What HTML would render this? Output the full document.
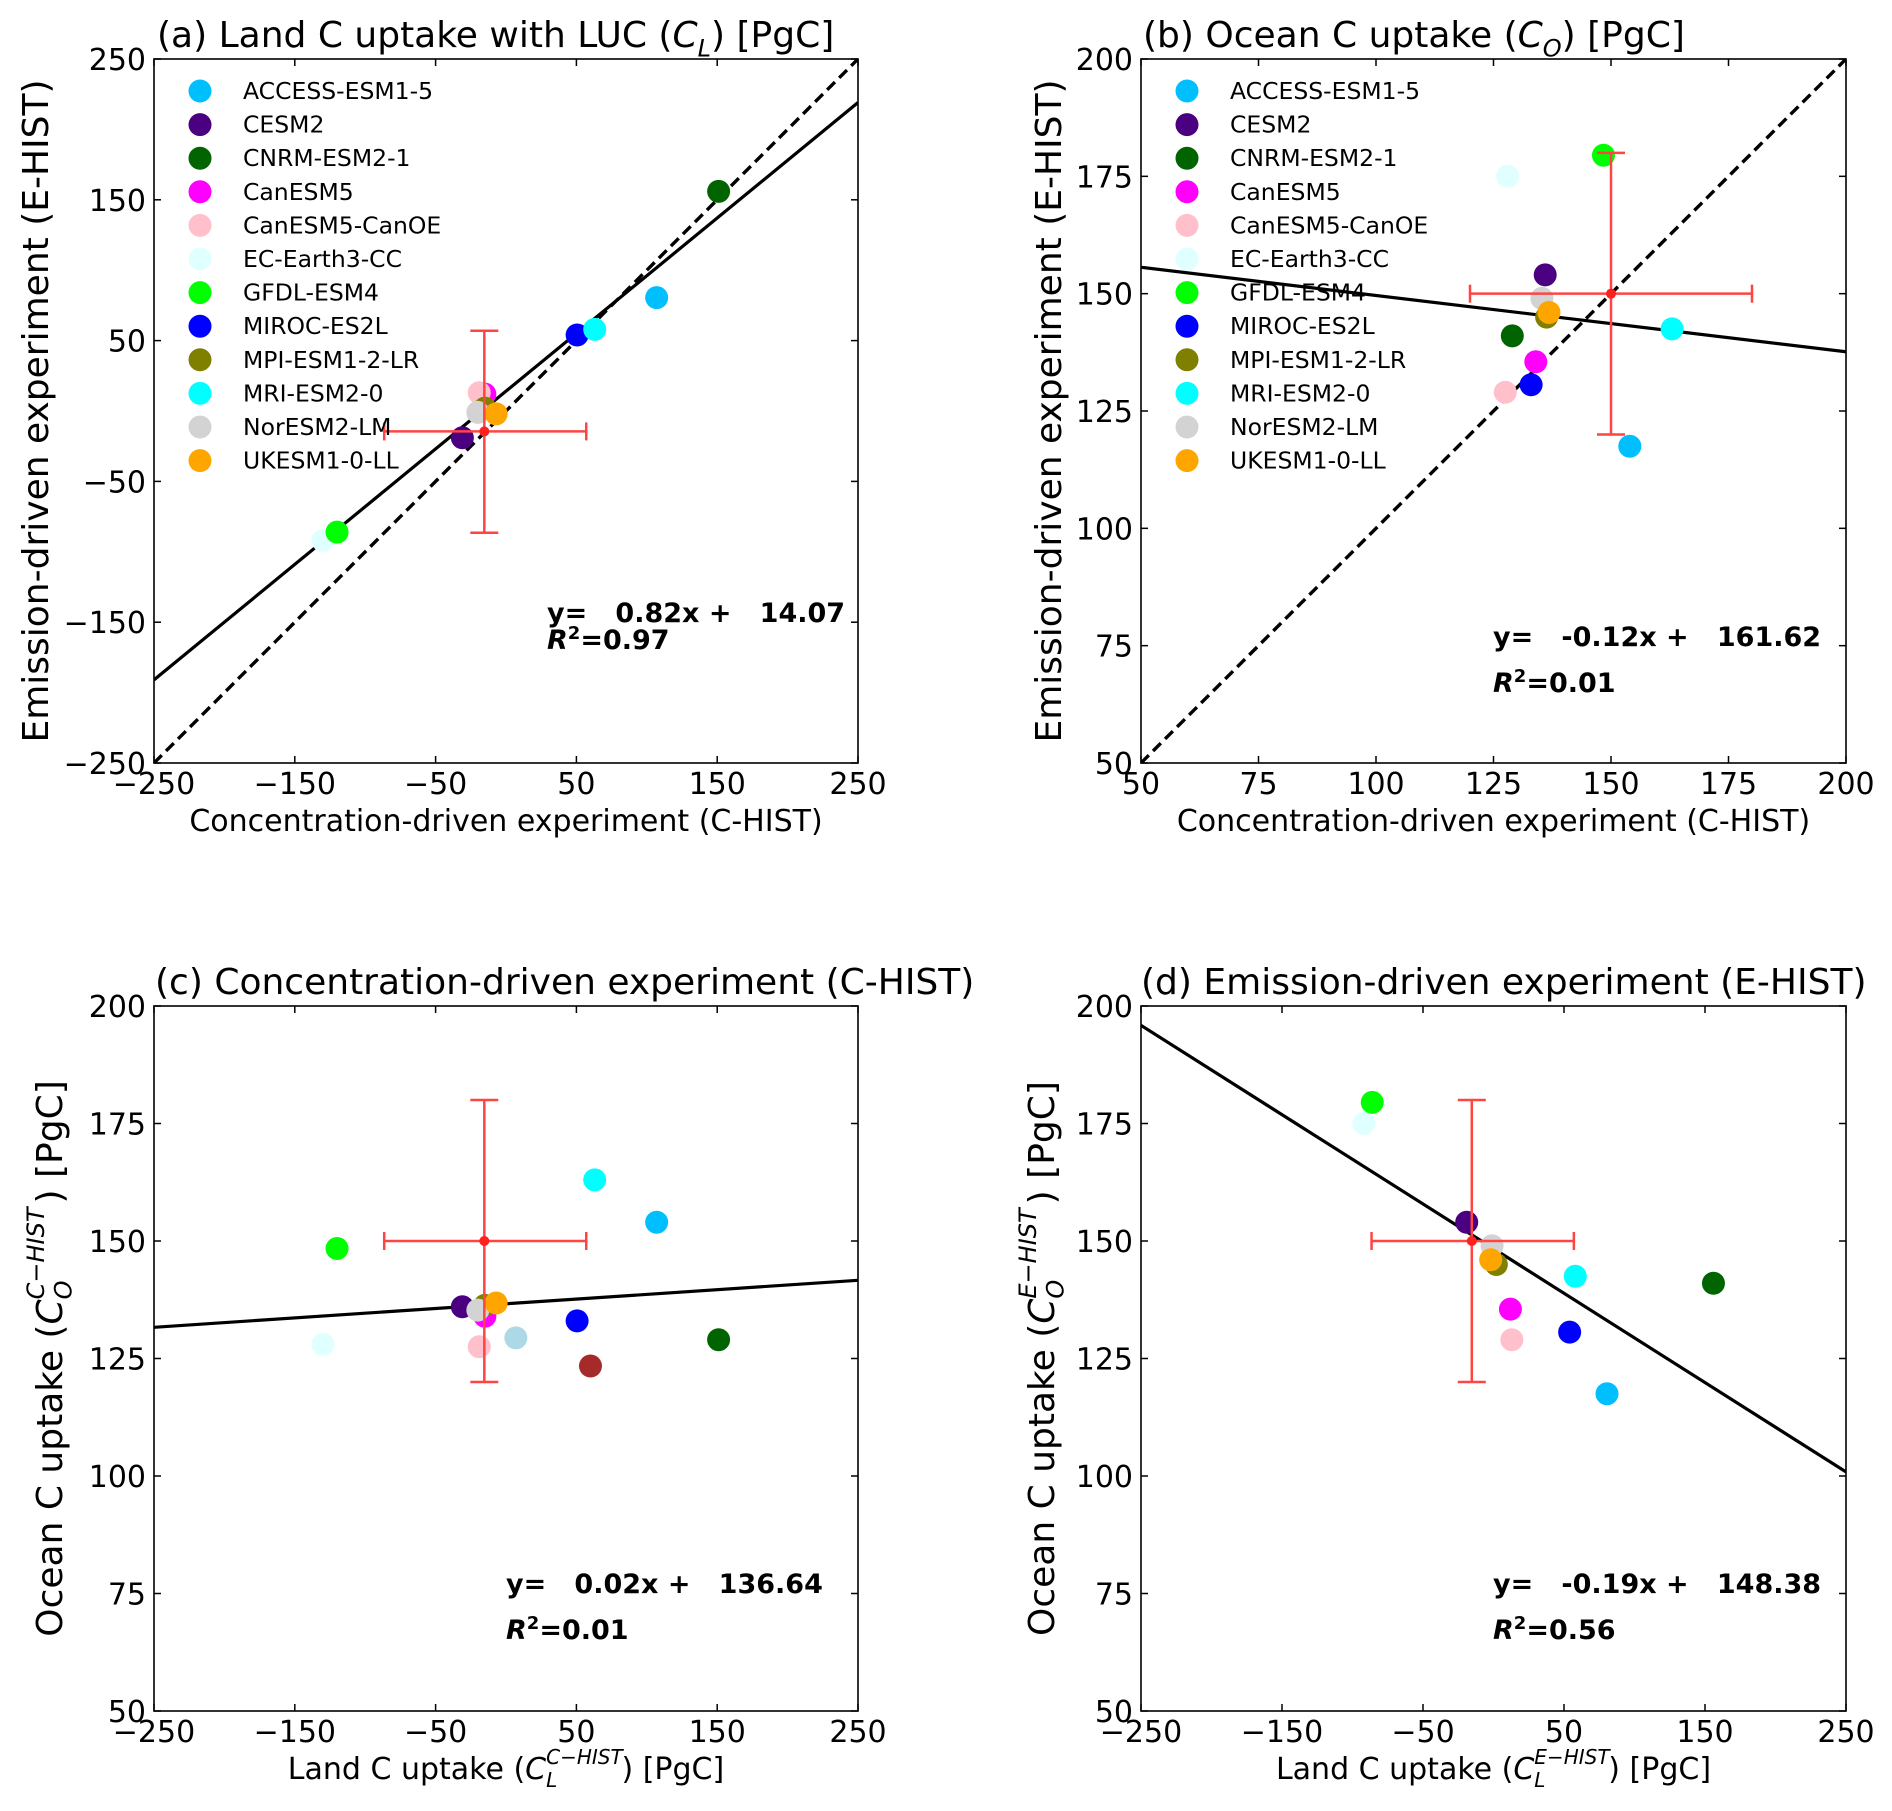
<!DOCTYPE html>
<html><head><meta charset="utf-8">
<style>
html,body{margin:0;padding:0;background:#fff;}
svg{display:block;font-family:"DejaVu Sans","Liberation Sans",sans-serif;}
</style></head>
<body>
<svg id="fig" width="1892" height="1811" viewBox="0 0 1892 1811" xmlns="http://www.w3.org/2000/svg"></svg>
<script>
const models = ["ACCESS-ESM1-5","CESM2","CNRM-ESM2-1","CanESM5","CanESM5-CanOE","EC-Earth3-CC","GFDL-ESM4","MIROC-ES2L","MPI-ESM1-2-LR","MRI-ESM2-0","NorESM2-LM","UKESM1-0-LL"];
const colors = ["#00bfff","#4b0082","#006400","#ff00ff","#ffc0cb","#e0ffff","#00ff00","#0000ff","#808000","#00ffff","#d3d3d3","#ffa500"];
const landC  = [107, -31, 151, -15, -19, -130, -120, 50.5, -15, 63, -20, -7];
const landE  = [80.5, -19, 156, 12, 13, -92, -86, 54, 2, 58, -1, -2];
const oceanC = [154, 136, 129, 134, 127.5, 128, 148.4, 133, 136.3, 163, 135.3, 136.8];
const oceanE = [117.5, 154, 141, 135.5, 129, 175, 179.5, 130.6, 145, 142.5, 149, 146];
const extraX = [7, 60];
const extraY = [129.4, 123.4];
const extraColors = ["#add8e6","#a52a2a"];
const meanLandC = -15.4, meanLandE = -14.5, meanOceanC = 150, meanOceanE = 150;
const errLand = [-86.5, 57], errOcean = [120, 180];
const fitA = [0.82, 14.07], fitB = [-0.12, 161.62], fitC = [0.02, 136.64], fitD = [-0.19, 148.38];
const r2 = ["0.97","0.01","0.01","0.56"];
const landTicks = [-250,-150,-50,50,150,250];
const oceanTicks = [50,75,100,125,150,175,200];

const NS="http://www.w3.org/2000/svg";
const svg=document.getElementById('fig');
function el(tag,attrs,parent,text){const e=document.createElementNS(NS,tag);for(const k in attrs)e.setAttribute(k,attrs[k]);if(text!==undefined)e.textContent=text;(parent||svg).appendChild(e);return e;}
function fmt(v){return v<0?"\u2212"+(-v):String(v);}

function sub(t,base,subs,sup,rest){
  el('tspan',{},t,base);
  el('tspan',{'font-style':'italic'},t,'C');
  const fs=Math.round(parseFloat(t.getAttribute('font-size'))*0.68);
  if(sup){
    const sp=el('tspan',{'font-size':fs,dy:-fs*0.75,'font-style':'italic'},t,sup);
    const w=sp.getComputedTextLength();
    el('tspan',{'font-size':fs,dy:fs*1.15,dx:-w,'font-style':'italic'},t,subs);
    const sw=fs*0.62;
    el('tspan',{dy:-fs*0.4,dx:Math.max(0,w-sw)},t,rest);
  } else {
    el('tspan',{'font-size':fs,dy:fs*0.4,'font-style':'italic'},t,subs);
    el('tspan',{dy:-fs*0.4},t,rest);
  }
}

function panel(o){
  const g=el('g',{});
  
  
  const L=o.x0,R=o.x1,T=o.y0,B=o.y1;
  const sx=v=>L+(v-o.xd[0])/(o.xd[1]-o.xd[0])*(R-L);
  const sy=v=>B-(v-o.yd[0])/(o.yd[1]-o.yd[0])*(B-T);
  const cid='clip'+o.id;
  const cp=el('clipPath',{id:cid},g);el('rect',{x:L,y:T,width:R-L,height:B-T},cp);
  const t=el('text',{x:o.tx,y:T-12,'font-size':36,fill:'#000'},g);
  
  o.title(t);
  o.xt.forEach(v=>{const x=sx(v);
    el('line',{x1:x,y1:B,x2:x,y2:B-7,stroke:'#000','stroke-width':1.5},g);
    el('line',{x1:x,y1:T,x2:x,y2:T+7,stroke:'#000','stroke-width':1.5},g);
    const lb=el('text',{x:x,y:B+31,'font-size':30,'text-anchor':'middle'},g,fmt(v));
    });
  o.yt.forEach(v=>{const y=sy(v);
    el('line',{x1:L,y1:y,x2:L+7,y2:y,stroke:'#000','stroke-width':1.5},g);
    el('line',{x1:R,y1:y,x2:R-7,y2:y,stroke:'#000','stroke-width':1.5},g);
    const lb=el('text',{x:L-8,y:y+11,'font-size':30,'text-anchor':'end'},g,fmt(v));
    });
  const xl=el('text',{x:(L+R)/2,y:B+68,'font-size':30,'text-anchor':'middle'},g);
  
  o.xlab(xl);
  const yl=el('text',{x:0,y:0,'font-size':36,'text-anchor':'middle',transform:`translate(${o.ylx},${(T+B)/2}) rotate(-90)`},g);
  
  o.ylab(yl);
  const lg=el('g',{'clip-path':`url(#${cid})`},g);
  if(o.dash){const d=el('line',{x1:sx(o.xd[0]),y1:sy(o.xd[0]),x2:sx(o.xd[1]),y2:sy(o.xd[1]),stroke:'#000','stroke-width':3.4,'stroke-dasharray':'11,6'},lg);
    }
  const f=o.fit;
  const fl=el('line',{x1:sx(o.xd[0]),y1:sy(f[0]*o.xd[0]+f[1]),x2:sx(o.xd[1]),y2:sy(f[0]*o.xd[1]+f[1]),stroke:'#000','stroke-width':3.2},lg);
  
  o.px.forEach((xv,i)=>{const c=el('circle',{cx:sx(xv),cy:sy(o.py[i]),r:11.5,fill:colors[i]},lg);
    });
  if(o.ex){o.ex.forEach((xv,i)=>{const c=el('circle',{cx:sx(xv),cy:sy(o.ey[i]),r:11.5,fill:extraColors[i]},lg);
    });}
  const eb=el('g',{stroke:'#ff4444','stroke-width':2.5,fill:'none'},g);
  
  const mx=sx(o.mx),my=sy(o.my);
  el('line',{x1:sx(o.ex1[0]),y1:my,x2:sx(o.ex1[1]),y2:my},eb);
  el('line',{x1:sx(o.ex1[0]),y1:my-9,x2:sx(o.ex1[0]),y2:my+9},eb);
  el('line',{x1:sx(o.ex1[1]),y1:my-9,x2:sx(o.ex1[1]),y2:my+9},eb);
  el('line',{x1:mx,y1:sy(o.ey1[0]),x2:mx,y2:sy(o.ey1[1])},eb);
  el('line',{x1:mx-14,y1:sy(o.ey1[0]),x2:mx+14,y2:sy(o.ey1[0])},eb);
  el('line',{x1:mx-14,y1:sy(o.ey1[1]),x2:mx+14,y2:sy(o.ey1[1])},eb);
  el('circle',{cx:mx,cy:my,r:5,fill:'#ff2020',stroke:'none'},eb);
  el('rect',{x:L,y:T,width:R-L,height:B-T,fill:'none',stroke:'#000','stroke-width':1.6},g);
  if(o.legend){const lgd=el('g',{},g);
    
    models.forEach((m,i)=>{const y=T+32+i*33.6;
      const e=el('g',{},lgd);
      el('circle',{cx:L+46,cy:y,r:11.5,fill:colors[i]},e);
      el('text',{x:L+89,y:y+8,'font-size':23.5},e,m);});}
  const an=el('g',{'font-size':27,'font-weight':'bold'},g);
  
  const s=f[0]<0?"-"+Math.abs(f[0]).toFixed(2):f[0].toFixed(2);
  el('text',{x:o.ax,y:o.ay,style:'white-space:pre'},an,`y=   ${s}x +   ${f[1].toFixed(2)}`);
  const r=el('text',{x:o.ax,y:o.ay+o.rdy},an);
  el('tspan',{'font-style':'italic'},r,'R');
  el('tspan',{'font-size':18,dy:-10},r,'2');
  el('tspan',{dy:10},r,'='+o.r2);
}

panel({id:'a',name:'panel-a-land',x0:154,x1:858,y0:59,y1:763,xd:[-250,250],yd:[-250,250],xt:landTicks,yt:landTicks,
  tx:157,title:t=>sub(t,'(a) Land C uptake with LUC (','L',null,') [PgC]'),
  xlab:t=>t.textContent='Concentration-driven experiment (C-HIST)',ylx:48,ylab:t=>t.textContent='Emission-driven experiment (E-HIST)',
  dash:true,fit:fitA,px:landC,py:landE,mx:meanLandC,my:meanLandE,ex1:errLand,ey1:errLand,legend:true,
  ax:547,ay:622,rdy:27,r2:r2[0]});
panel({id:'b',name:'panel-b-ocean',x0:1141,x1:1846,y0:59,y1:763,xd:[50,200],yd:[50,200],xt:oceanTicks,yt:oceanTicks,
  tx:1143,title:t=>sub(t,'(b) Ocean C uptake (','O',null,') [PgC]'),
  xlab:t=>t.textContent='Concentration-driven experiment (C-HIST)',ylx:1061,ylab:t=>t.textContent='Emission-driven experiment (E-HIST)',
  dash:true,fit:fitB,px:oceanC,py:oceanE,mx:150,my:150,ex1:errOcean,ey1:errOcean,legend:true,
  ax:1493,ay:646,rdy:46,r2:r2[1]});
panel({id:'c',name:'panel-c-chist',x0:154,x1:858,y0:1006,y1:1711,xd:[-250,250],yd:[50,200],xt:landTicks,yt:oceanTicks,
  tx:155,title:t=>t.textContent='(c) Concentration-driven experiment (C-HIST)',
  xlab:t=>sub(t,'Land C uptake (','L','C\u2212HIST',') [PgC]'),ylx:62,ylab:t=>sub(t,'Ocean C uptake  (','O','C\u2212HIST',') [PgC]'),
  dash:false,fit:fitC,px:landC,py:oceanC,ex:extraX,ey:extraY,mx:meanLandC,my:meanOceanC,ex1:errLand,ey1:errOcean,legend:false,
  ax:506,ay:1593,rdy:46,r2:r2[2]});
panel({id:'d',name:'panel-d-ehist',x0:1141,x1:1846,y0:1006,y1:1711,xd:[-250,250],yd:[50,200],xt:landTicks,yt:oceanTicks,
  tx:1141,title:t=>t.textContent='(d) Emission-driven experiment (E-HIST)',
  xlab:t=>sub(t,'Land C uptake (','L','E\u2212HIST',') [PgC]'),ylx:1054,ylab:t=>sub(t,'Ocean C uptake (','O','E\u2212HIST',') [PgC]'),
  dash:false,fit:fitD,px:landE,py:oceanE,mx:meanLandC,my:meanOceanE,ex1:errLand,ey1:errOcean,legend:false,
  ax:1493,ay:1593,rdy:46,r2:r2[3]});
</script>
</body></html>
